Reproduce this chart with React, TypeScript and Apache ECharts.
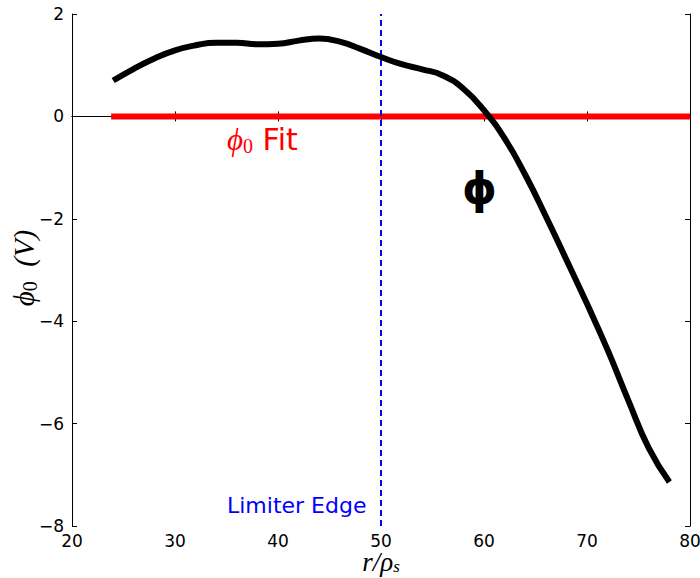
import React, { useEffect, useRef } from "react";
import * as echarts from "echarts";

const rValues = [24, 26, 28, 30, 32, 34, 36, 38, 40, 42, 44, 46, 48, 50, 52, 54, 56, 58, 60, 62, 64, 66, 68, 70, 72, 74, 76, 78];
const phiValues = [0.70, 0.93, 1.13, 1.29, 1.39, 1.44, 1.44, 1.41, 1.42, 1.48, 1.52, 1.46, 1.32, 1.16, 1.02, 0.92, 0.80, 0.54, 0.12, -0.43, -1.14, -1.95, -2.80, -3.66, -4.56, -5.54, -6.48, -7.14];
const fitR = [23.8, 80];
const fitPhi = [0, 0];
const limiterR = 50;
const xTicks = { min: 20, max: 80, interval: 10 };
const yTicks = { min: -8, max: 2, interval: 2 };
const xTitle = "{i|r/ρ}{s|s}";
const yTitle = "{i|ϕ}{s|0}{i|  (V)}";

export default function App() {
  const ref = useRef<HTMLDivElement>(null);
  useEffect(() => {
    if (!ref.current) return;
    const chart = echarts.init(ref.current, null, { renderer: "svg" });
    const minus = (v: number) => String(v).replace("-", "\u2212");
    const tickFont = { fontFamily: "DejaVu Sans", fontSize: 17, color: "#000", lineHeight: 17 };
    const axisCommon = {
      axisLine: { show: true, lineStyle: { color: "#000", width: 1 } },
      axisTick: { show: true, inside: true, length: 5, lineStyle: { color: "#000" } },
      splitLine: { show: false },
    };
    chart.setOption({
      animation: false,
      backgroundColor: "#fff",
      grid: { left: 72, right: 10, top: 14, bottom: 52, containLabel: false, outerBoundsMode: "none" },
      xAxis: [
        {
          type: "value",
          ...xTicks,
          ...axisCommon,
          axisLabel: { ...tickFont, margin: 6, formatter: minus },
        },
        {
          type: "value",
          position: "top",
          ...xTicks,
          ...axisCommon,
          axisLabel: { show: false },
        },
      ],
      yAxis: [
        {
          type: "value",
          ...yTicks,
          ...axisCommon,
          axisLabel: { ...tickFont, margin: 8, formatter: minus },
        },
        {
          type: "value",
          position: "right",
          ...yTicks,
          ...axisCommon,
          axisLabel: { show: false },
        },
      ],
      series: [
        {
          type: "line",
          data: fitR.map((r, i) => [r, fitPhi[i]]),
          showSymbol: false,
          lineStyle: { color: "#ff0000", width: 6 },
          z: 3,
        },
        {
          type: "line",
          data: [[limiterR, yTicks.min], [limiterR, yTicks.max]],
          showSymbol: false,
          lineStyle: { color: "#0000ff", width: 2, type: [6, 4] },
          z: 4,
        },
        {
          type: "line",
          data: rValues.map((r, i) => [r, phiValues[i]]),
          showSymbol: false,
          smooth: 0.5,
          lineStyle: { color: "#000", width: 6 },
          z: 5,
        },
      ],
      graphic: [
        {
          type: "text",
          x: 381,
          y: 562,
          style: {
            text: xTitle,
            align: "center",
            verticalAlign: "middle",
            rich: {
              i: { fontFamily: "Liberation Serif", fontStyle: "italic", fontSize: 27, lineHeight: 22, fill: "#000" },
              s: { fontFamily: "Liberation Serif", fontStyle: "italic", fontSize: 17, lineHeight: 12, fill: "#000", padding: [9, 0, 0, 0] },
            },
          },
        },
        {
          type: "text",
          x: 24,
          y: 268,
          rotation: Math.PI / 2,
          style: {
            text: yTitle,
            align: "center",
            verticalAlign: "middle",
            rich: {
              i: { fontFamily: "Liberation Serif", fontStyle: "italic", fontSize: 29, lineHeight: 30, fill: "#000" },
              s: { fontFamily: "Liberation Serif", fontSize: 20, lineHeight: 18, fill: "#000", padding: [12, 0, 0, 0] },
            },
          },
        },
        {
          type: "text",
          left: 227,
          top: 124,
          style: {
            text: "{i|ϕ}{s|0}{f| Fit}",
            rich: {
              i: { fontFamily: "Liberation Serif", fontStyle: "italic", fontSize: 31, fill: "#ff0000" },
              s: { fontFamily: "Liberation Serif", fontSize: 20, fill: "#ff0000", padding: [13, 0, 0, 0] },
              f: { fontFamily: "DejaVu Sans", fontSize: 30, fill: "#ff0000" },
            },
          },
        },
        {
          type: "text",
          left: 462,
          top: 166,
          style: { text: "ϕ", font: "bold 44px 'DejaVu Sans'", fill: "#000" },
        },
        {
          type: "text",
          left: 227,
          top: 494,
          style: { text: "Limiter Edge", font: "22px 'DejaVu Sans'", fill: "#0000ff" },
        },
      ],
    });
    return () => chart.dispose();
  }, []);
  return <div ref={ref} style={{ position: "absolute", left: 0, top: 0, width: 700, height: 578 }} />;
}
